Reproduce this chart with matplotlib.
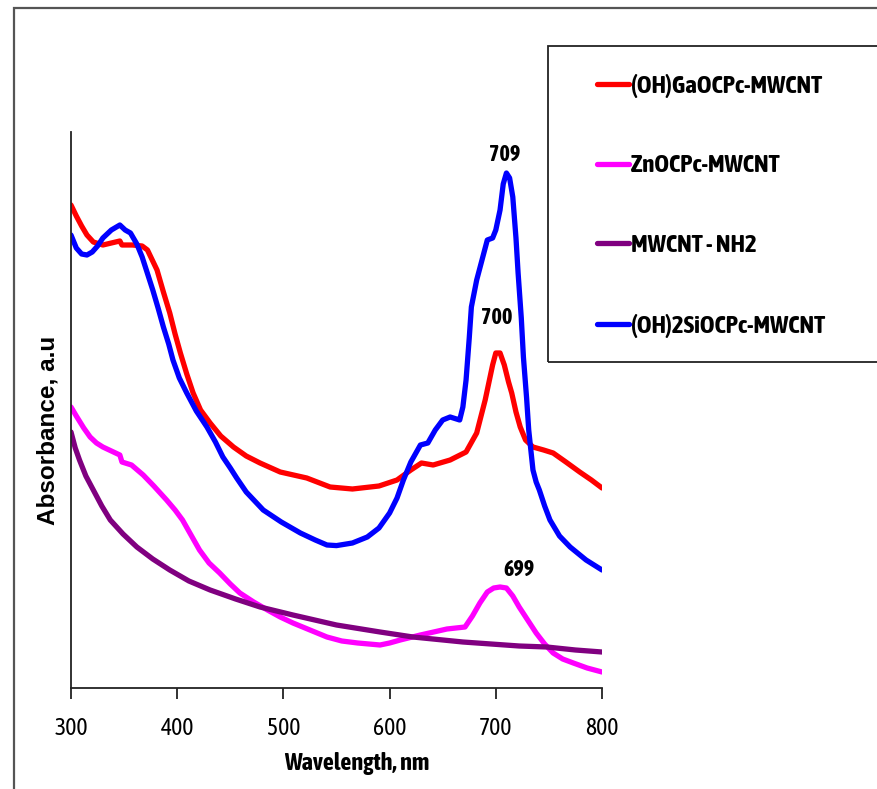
import matplotlib
matplotlib.use("Agg")
import matplotlib.pyplot as plt
from matplotlib import font_manager
from matplotlib.patches import Rectangle

# look for a narrow/condensed face that has a bold weight
def is_bold(w):
    if isinstance(w, str):
        return 'bold' in w.lower() or 'black' in w.lower() or 'heavy' in w.lower()
    return w >= 600

cands = []
for f in font_manager.fontManager.ttflist:
    if ('Narrow' in f.name or 'Condensed' in f.name) and is_bold(f.weight):
        cands.append(f.name)
cands = sorted(set(cands), key=lambda n: (0 if ('Liberation' in n or 'Arial' in n) else
                                          1 if 'Nimbus' in n else 2 if 'DejaVu' not in n else 3, n))
if cands and 'DejaVu' not in cands[0]:
    narrow = [cands[0], 'Liberation Sans', 'DejaVu Sans']
    fs_tick, fs_leg, fs_lab, fs_peak = 17, 18, 17.5, 16
else:
    narrow = ['Liberation Sans', 'DejaVu Sans']
    fs_tick, fs_leg, fs_lab, fs_peak = 15, 14, 14.5, 14.5
wide = ['Liberation Sans', 'DejaVu Sans']

# (OH)GaOCPc-MWCNT
ga_x = [300, 305, 310, 315, 321, 330, 338, 346, 348, 358, 367, 372, 381, 387, 393, 398,
        403, 409, 415, 422, 431, 441, 453, 465, 478, 497, 522, 544, 565, 590, 607, 620,
        630, 641, 657, 672, 682, 690, 697, 700, 704, 708, 712, 715, 719, 723, 728, 735,
        745, 754, 766, 779, 790, 800]
ga_y = [2.415, 2.36, 2.31, 2.265, 2.23, 2.215, 2.225, 2.235, 2.215, 2.215, 2.21, 2.19,
        2.09, 1.98, 1.875, 1.77, 1.675, 1.57, 1.475, 1.39, 1.325, 1.26, 1.205, 1.16, 1.125,
        1.08, 1.05, 1.005, 0.995, 1.01, 1.04, 1.09, 1.125, 1.115, 1.14, 1.18, 1.275, 1.44,
        1.615, 1.675, 1.675, 1.615, 1.53, 1.475, 1.38, 1.305, 1.24, 1.205, 1.19, 1.175,
        1.13, 1.08, 1.04, 1.00]

# ZnOCPc-MWCNT
zn_x = [300, 305, 312, 318, 324, 330, 338, 346, 348, 357, 368, 378, 390, 398, 405, 413,
        421, 430, 440, 450, 459, 472, 485, 497, 509, 525, 541, 555, 570, 591, 600, 610,
        629, 654, 671, 678, 685, 692, 698, 704, 710, 716, 722, 730, 738, 746, 754, 763,
        773, 786, 800]
zn_y = [1.405, 1.36, 1.30, 1.255, 1.225, 1.205, 1.185, 1.165, 1.13, 1.115, 1.065, 1.01,
        0.94, 0.89, 0.84, 0.765, 0.69, 0.625, 0.575, 0.52, 0.475, 0.43, 0.39, 0.355, 0.325,
        0.29, 0.255, 0.235, 0.225, 0.215, 0.225, 0.24, 0.265, 0.295, 0.305, 0.36, 0.425,
        0.48, 0.50, 0.505, 0.50, 0.46, 0.405, 0.34, 0.275, 0.22, 0.175, 0.145, 0.125, 0.10,
        0.08]

# MWCNT - NH2
nh_x = [300, 304, 308, 314, 321, 329, 337, 349, 362, 377, 393, 411, 431, 455, 478, 509,
        550, 591, 622, 669, 722, 748, 775, 800]
nh_y = [1.28, 1.20, 1.14, 1.06, 0.99, 0.91, 0.84, 0.77, 0.705, 0.645, 0.59, 0.535, 0.49,
        0.445, 0.405, 0.365, 0.315, 0.28, 0.255, 0.23, 0.21, 0.205, 0.19, 0.18]

# (OH)2SiOCPc-MWCNT
si_x = [300, 305, 310, 315, 320, 325, 330, 338, 346, 351, 356, 362, 367, 377, 382, 387,
        392, 396, 402, 409, 418, 428, 436, 443, 450, 456, 465, 481, 498, 516, 530, 541,
        550, 565, 579, 590, 600, 607, 613, 620, 629, 636, 643, 650, 657, 663, 666, 669,
        672, 675, 677, 682, 687, 692, 697, 700, 704, 707, 710, 713, 716, 719, 721, 724,
        726, 729, 731, 735, 738, 741, 746, 751, 760, 770, 785, 800]
si_y = [2.265, 2.2, 2.17, 2.165, 2.18, 2.21, 2.25, 2.29, 2.315, 2.29, 2.275, 2.22, 2.155,
        1.99, 1.9, 1.805, 1.72, 1.64, 1.55, 1.475, 1.385, 1.305, 1.23, 1.155, 1.1, 1.05,
        0.98, 0.89, 0.83, 0.775, 0.74, 0.715, 0.712, 0.725, 0.755, 0.8, 0.875, 0.95, 1.04,
        1.13, 1.215, 1.225, 1.29, 1.34, 1.355, 1.345, 1.34, 1.405, 1.54, 1.75, 1.905, 2.04,
        2.14, 2.24, 2.25, 2.29, 2.39, 2.52, 2.575, 2.55, 2.455, 2.25, 2.075, 1.85, 1.655,
        1.45, 1.29, 1.09, 1.03, 0.99, 0.91, 0.84, 0.76, 0.705, 0.64, 0.59]

series_labels = ['(OH)GaOCPc-MWCNT', 'ZnOCPc-MWCNT', 'MWCNT - NH2', '(OH)2SiOCPc-MWCNT']
peak_labels = ['709', '700', '699']
peak_pos = [(708.6, 2.665), (701, 1.85), (721.8, 0.59)]

fig = plt.figure(figsize=(8.77, 7.89), dpi=100)
ax = fig.add_axes([71/877, 1-688/789, (602-71)/877, (688-132)/789])

lw = 3.8
kw = dict(lw=lw, solid_capstyle='round', solid_joinstyle='round')
l1, = ax.plot(ga_x, ga_y, color='#ff0000', **kw)
l2, = ax.plot(zn_x, zn_y, color='#ff00ff', **kw)
l3, = ax.plot(nh_x, nh_y, color='#800080', **kw)
l4, = ax.plot(si_x, si_y, color='#0000ff', **kw)

ax.set_xlim(300, 800)
ax.set_ylim(0, 2.78)
ax.set_xticks([300, 400, 500, 600, 700, 800])
ax.set_yticks([])
for s in ['top', 'right']:
    ax.spines[s].set_visible(False)
for s in ['left', 'bottom']:
    ax.spines[s].set_linewidth(1.3)
    ax.spines[s].set_color('#222222')
ax.tick_params(axis='x', direction='out', length=8, width=1.3, color='#222222',
               pad=13, labelsize=fs_tick)
for t in ax.get_xticklabels():
    t.set_family(narrow)

ax.set_xlabel('Wavelength, nm', family=narrow, fontsize=fs_lab, fontweight='bold')
ax.xaxis.set_label_coords((357-71)/531, -(752-688)/556)
ax.set_ylabel('Absorbance, a.u', family=wide, fontsize=17.5, fontweight='bold')
ax.yaxis.set_label_coords(-(71-60)/531, (688-430)/556)

for lab, (px, py) in zip(peak_labels, peak_pos):
    ax.text(px, py, lab, family=narrow, fontsize=fs_peak, fontweight='bold',
            ha='center', va='center')

# legend with its own frame running off the right edge
fig.add_artist(Rectangle((548/877, 1-362/789), 0.5, (362-46)/789, transform=fig.transFigure,
                         fill=False, edgecolor='#222222', lw=1.3))
leg = fig.legend([l1, l2, l3, l4], series_labels,
                 loc='upper left', bbox_to_anchor=(574/877, 1-51/789), frameon=False,
                 handlelength=1.28, handletextpad=0.1, labelspacing=2.27,
                 prop={'family': narrow, 'size': fs_leg, 'weight': 'bold'})

# outer frame of the figure
fig.add_artist(Rectangle((14/877, -0.1), 1.2, 1.1 - 8/789, transform=fig.transFigure,
                         fill=False, edgecolor='#555555', lw=1.6))

fig.savefig('out.png', dpi=100)
